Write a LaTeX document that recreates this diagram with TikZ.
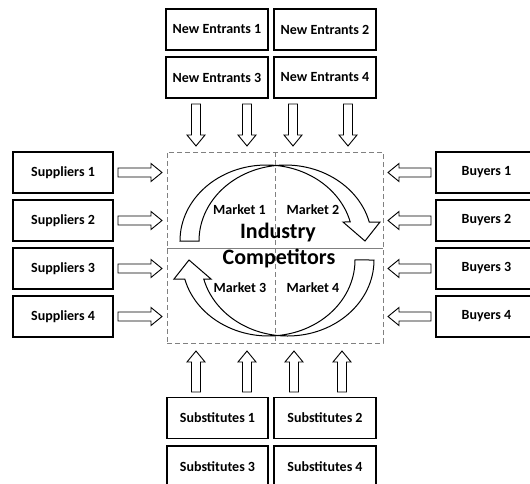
\documentclass[tikz,border=0pt]{standalone}
\usepackage{fontspec}
\setmainfont{Carlito}
\usetikzlibrary{calc}
\tikzset{
  lbox/.style={draw=black, line width=1.2pt, fill=white, minimum width=102pt, minimum height=41pt, inner sep=0pt, font=\fontsize{14}{16}\selectfont\bfseries},
  mlabel/.style={inner sep=0pt, anchor=base, font=\fontsize{14}{16}\selectfont\bfseries},
  biglabel/.style={inner sep=0pt, anchor=base, font=\fontsize{22}{25}\selectfont\bfseries},
  blk/.style={draw=black, line width=0.9pt, fill=white, line join=miter},
  curv/.style={draw=black, line width=1pt, fill=white, line join=miter},
  grid/.style={draw=gray, line width=1pt},
  dgrid/.style={draw=gray, line width=1pt, dash pattern=on 5pt off 3pt}
}
\newcommand\blockarr[2]{%
  \coordinate (bahb) at ($(#2)!11pt!(#1)$);
  \draw[blk] ($(#1)!4.5pt!90:(#2)$) -- ($(bahb)!4.5pt!90:(#2)$) -- ($(bahb)!9pt!90:(#2)$) -- (#2)
    -- ($(bahb)!9pt!-90:(#2)$) -- ($(bahb)!4.5pt!-90:(#2)$) -- ($(#1)!4.5pt!-90:(#2)$) -- cycle;}
\newcommand\ribbonarrow{%
  (180,241) arc[start angle=180, end angle=345.5, x radius=86.5, y radius=76]
  -- (343,222) -- (365,241) -- (380,222) -- (369.25,222)
  arc[start angle=345.5, end angle=180, x radius=86.5, y radius=76] -- cycle}
\begin{document}
\begin{tikzpicture}[x=1pt, y=-1pt]
\useasboundingbox (0,0) rectangle (530,483);
\clip (0,0) rectangle (530,483);
\fill[white] (0,0) rectangle (530,483);

% curved market arrows
\path[curv] \ribbonarrow;
\begin{scope}[rotate around={180:(277,250.5)}]
  \path[curv] \ribbonarrow;
\end{scope}

% market area
\node[dgrid, minimum width=216pt, minimum height=191pt, inner sep=0pt] (mkt) at (275,247.5) {};
\coordinate (vtop) at (275,152);
\coordinate (vbot) at (275,343);
\coordinate (hl) at (167,248);
\coordinate (hr) at (383,248);
\draw[grid] (hl) -- (hr);
\draw[dgrid] (vtop) -- (vbot);

\node[biglabel] (ind) at (278,238) {Industry};
\node[biglabel] (comp) at (279,264.5) {Competitors};
\node[mlabel] (m1) at (239.5,214) {Market 1};
\node[mlabel] (m2) at (313,214) {Market 2};
\node[mlabel] (m3) at (240,292.5) {Market 3};
\node[mlabel] (m4) at (313,292.5) {Market 4};

% new entrants
\node[lbox] (ne1) at (217,29.5) {New Entrants 1};
\node[lbox] (ne2) at (325,29.5) {New Entrants 2};
\node[lbox] (ne3) at (217,77.5) {New Entrants 3};
\node[lbox] (ne4) at (325,77.5) {New Entrants 4};

% suppliers
\node[lbox, minimum width=100pt] (s1) at (63,172.5) {Suppliers 1};
\node[lbox, minimum width=100pt] (s2) at (63,220.5) {Suppliers 2};
\node[lbox, minimum width=100pt] (s3) at (63,268.5) {Suppliers 3};
\node[lbox, minimum width=100pt] (s4) at (63,316.5) {Suppliers 4};

% buyers
\node[lbox, minimum width=101pt] (b1) at (486.5,172.5) {Buyers 1};
\node[lbox, minimum width=101pt] (b2) at (486.5,220.5) {Buyers 2};
\node[lbox, minimum width=101pt] (b3) at (486.5,268.5) {Buyers 3};
\node[lbox, minimum width=101pt] (b4) at (486.5,316.5) {Buyers 4};

% substitutes
\node[lbox, minimum width=101pt] (u1) at (217.5,418) {Substitutes 1};
\node[lbox] (u2) at (325,418) {Substitutes 2};
\node[lbox, minimum width=101pt] (u3) at (217.5,466.5) {Substitutes 3};
\node[lbox] (u4) at (325,466.5) {Substitutes 4};

% arrow end points
\foreach \i/\x in {1/196,2/247,3/293,4/348}{
  \coordinate (ds\i) at (\x,104); \coordinate (de\i) at (\x,146);}
\foreach \i/\x in {1/196,2/247,3/294,4/342}{
  \coordinate (us\i) at (\x,392); \coordinate (ue\i) at (\x,351);}
\foreach \i/\y in {1/172.5,2/220.5,3/268.5,4/316.5}{
  \coordinate (rs\i) at (118,\y); \coordinate (re\i) at (162,\y);
  \coordinate (ls\i) at (431,\y); \coordinate (le\i) at (388,\y);}

\foreach \i in {1,2,3,4}{
  \blockarr{ds\i}{de\i}
  \blockarr{us\i}{ue\i}
  \blockarr{rs\i}{re\i}
  \blockarr{ls\i}{le\i}
}
\end{tikzpicture}
\end{document}
